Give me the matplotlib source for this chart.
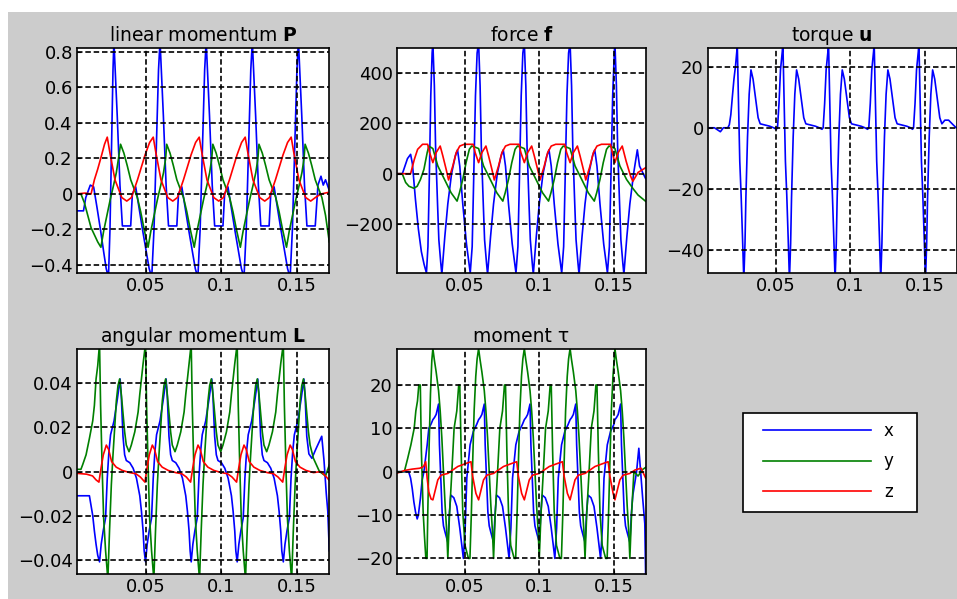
import matplotlib
matplotlib.use("Agg")
import matplotlib.pyplot as plt
from matplotlib.patches import Rectangle
from matplotlib.ticker import FuncFormatter

# ---------------- linear momentum P ----------------
P_x_t = [0.0043, 0.0090, 0.0105, 0.0135, 0.0157, 0.0180, 0.0202, 0.0224, 0.0240, 0.0255, 0.0265, 0.0275, 0.0285,
         0.0291, 0.0313, 0.0331, 0.0347, 0.0402, 0.0413, 0.0435, 0.0480, 0.0524, 0.0541, 0.0556, 0.0571, 0.0586,
         0.0596, 0.0618, 0.0636, 0.0652, 0.0707, 0.0718, 0.0740, 0.0785, 0.0829, 0.0846, 0.0861, 0.0876, 0.0891,
         0.0901, 0.0923, 0.0941, 0.0957, 0.1012, 0.1023, 0.1045, 0.1090, 0.1134, 0.1151, 0.1166, 0.1181, 0.1196,
         0.1206, 0.1228, 0.1246, 0.1262, 0.1317, 0.1328, 0.1350, 0.1395, 0.1439, 0.1456, 0.1471, 0.1486, 0.1501,
         0.1511, 0.1533, 0.1551, 0.1567, 0.1622, 0.1640, 0.1660, 0.1675, 0.1690, 0.1715]
P_x = [-0.095, -0.095, -0.02, 0.05, 0.04, -0.08, -0.20, -0.33, -0.42, -0.47, -0.20, 0.25, 0.70,
       0.86, 0.44, 0.05, -0.18, -0.18, 0.00, 0.04, -0.20, -0.42, -0.47, -0.20, 0.25, 0.70,
       0.86, 0.44, 0.05, -0.18, -0.18, 0.00, 0.04, -0.20, -0.42, -0.47, -0.20, 0.25, 0.70,
       0.86, 0.44, 0.05, -0.18, -0.18, 0.00, 0.04, -0.20, -0.42, -0.47, -0.20, 0.25, 0.70,
       0.86, 0.44, 0.05, -0.18, -0.18, 0.00, 0.04, -0.20, -0.42, -0.47, -0.20, 0.25, 0.70,
       0.86, 0.44, 0.05, -0.18, -0.18, 0.05, 0.10, 0.05, 0.08, 0.02]

P_y_t = [0.0043, 0.0073, 0.0096, 0.0118, 0.0140, 0.0162, 0.0184, 0.0205, 0.0223, 0.0245, 0.0267, 0.0289, 0.0307, 0.0323,
         0.0335, 0.0357, 0.0379, 0.0402, 0.0424, 0.0446, 0.0468, 0.0491, 0.0517, 0.0535, 0.0557, 0.0579, 0.0601, 0.0619, 0.0633,
         0.0640, 0.0662, 0.0684, 0.0707, 0.0729, 0.0751, 0.0773, 0.0796, 0.0822, 0.0840, 0.0862, 0.0884, 0.0906, 0.0924, 0.0938,
         0.0945, 0.0967, 0.0989, 0.1012, 0.1034, 0.1056, 0.1078, 0.1101, 0.1127, 0.1145, 0.1167, 0.1189, 0.1211, 0.1229, 0.1243,
         0.1250, 0.1272, 0.1294, 0.1317, 0.1339, 0.1361, 0.1383, 0.1406, 0.1432, 0.1450, 0.1472, 0.1494, 0.1516, 0.1534, 0.1548,
         0.1555, 0.1577, 0.1599, 0.1622, 0.1644, 0.1666, 0.1690, 0.1715]
P_y = [0.0, 0.0, -0.05, -0.12, -0.19, -0.23, -0.27, -0.30, -0.21, -0.12, -0.03, 0.05, 0.12, 0.21,
       0.28, 0.23, 0.16, 0.08, 0.03, -0.02, -0.10, -0.20, -0.30, -0.21, -0.12, -0.03, 0.05, 0.12, 0.20,
       0.28, 0.23, 0.16, 0.08, 0.03, -0.02, -0.10, -0.20, -0.30, -0.21, -0.12, -0.03, 0.05, 0.12, 0.20,
       0.28, 0.23, 0.16, 0.08, 0.03, -0.02, -0.10, -0.20, -0.30, -0.21, -0.12, -0.03, 0.05, 0.12, 0.20,
       0.28, 0.23, 0.16, 0.08, 0.03, -0.02, -0.10, -0.20, -0.30, -0.21, -0.12, -0.03, 0.05, 0.12, 0.20,
       0.28, 0.23, 0.16, 0.08, 0.03, -0.02, -0.12, -0.27]

P_z_t = [0.0043, 0.0100, 0.0140, 0.0162, 0.0184, 0.0207, 0.0229,
         0.0247, 0.0265, 0.0298, 0.0343, 0.0376, 0.0407, 0.0447, 0.0497, 0.0527,
         0.0551, 0.0569, 0.0602, 0.0647, 0.0680, 0.0711, 0.0751, 0.0801, 0.0831,
         0.0855, 0.0873, 0.0906, 0.0951, 0.0984, 0.1015, 0.1055, 0.1105, 0.1135,
         0.1159, 0.1177, 0.1210, 0.1255, 0.1288, 0.1319, 0.1359, 0.1409, 0.1439,
         0.1463, 0.1481, 0.1514, 0.1559, 0.1592, 0.1623, 0.1660, 0.1715]
P_z = [0.0, 0.005, 0.0, 0.08, 0.14, 0.21, 0.28,
       0.32, 0.23, 0.08, -0.02, -0.04, -0.02, 0.08, 0.22, 0.29,
       0.32, 0.23, 0.08, -0.02, -0.04, -0.02, 0.08, 0.22, 0.29,
       0.32, 0.23, 0.08, -0.02, -0.04, -0.02, 0.08, 0.22, 0.29,
       0.32, 0.23, 0.08, -0.02, -0.04, -0.02, 0.08, 0.22, 0.29,
       0.32, 0.23, 0.08, -0.02, -0.04, -0.02, 0.0, 0.01]

# ---------------- force f ----------------
f_x_t = [0.0050, 0.0083, 0.0100, 0.0117, 0.0138, 0.0150, 0.0170, 0.0190, 0.0210, 0.0228, 0.0244, 0.0254, 0.0263, 0.0273, 0.0282,
         0.0287, 0.0297, 0.0305, 0.0318, 0.0327, 0.0340, 0.0347, 0.0367, 0.0387, 0.0412, 0.0437, 0.0452, 0.0467, 0.0487, 0.0512, 0.0537, 0.0550, 0.0560, 0.0572, 0.0583,
         0.0593, 0.0603, 0.0611, 0.0624, 0.0633, 0.0646, 0.0653, 0.0673, 0.0693, 0.0718, 0.0743, 0.0758, 0.0773, 0.0793, 0.0818, 0.0843, 0.0856, 0.0866, 0.0878, 0.0889,
         0.0899, 0.0909, 0.0917, 0.0930, 0.0939, 0.0952, 0.0959, 0.0979, 0.0999, 0.1024, 0.1049, 0.1064, 0.1079, 0.1099, 0.1124, 0.1149, 0.1162, 0.1172, 0.1184, 0.1195,
         0.1205, 0.1215, 0.1223, 0.1236, 0.1245, 0.1258, 0.1265, 0.1285, 0.1305, 0.1330, 0.1355, 0.1370, 0.1385, 0.1405, 0.1430, 0.1455, 0.1468, 0.1478, 0.1490, 0.1501,
         0.1505, 0.1515, 0.1523, 0.1536, 0.1545, 0.1558, 0.1565, 0.1585, 0.1605, 0.1630, 0.1655, 0.1670, 0.1711]
f_x = [0, 0, 30, 60, 77, 40, -100, -220, -310, -360, -395, -290, -23, 310, 480,
       520, 350, 110, -116, -263, -356, -400, -250, -120, 0, 70, 95, 30, -120, -280, -395, -290, -23, 310, 480,
       520, 350, 110, -116, -263, -356, -400, -250, -120, 0, 70, 95, 30, -120, -280, -395, -290, -23, 310, 480,
       520, 350, 110, -116, -263, -356, -400, -250, -120, 0, 70, 95, 30, -120, -280, -395, -290, -23, 310, 480,
       520, 350, 110, -116, -263, -356, -400, -250, -120, 0, 70, 95, 30, -120, -280, -395, -290, -23, 310, 480,
       520, 350, 110, -116, -263, -356, -400, -250, -120, 0, 95, 30, -20]

f_y_t = [0.0050, 0.0082, 0.0105, 0.0127, 0.0160, 0.0182, 0.0204, 0.0227, 0.0249, 0.0260,
         0.0287, 0.0320, 0.0365, 0.0409, 0.0449, 0.0465, 0.0487, 0.0509, 0.0531, 0.0547, 0.0572,
         0.0593, 0.0626, 0.0671, 0.0715, 0.0755, 0.0771, 0.0793, 0.0815, 0.0837, 0.0853, 0.0878,
         0.0899, 0.0932, 0.0977, 0.1021, 0.1061, 0.1077, 0.1099, 0.1121, 0.1143, 0.1159, 0.1184,
         0.1205, 0.1238, 0.1283, 0.1327, 0.1367, 0.1383, 0.1405, 0.1427, 0.1449, 0.1465, 0.1490,
         0.1505, 0.1538, 0.1583, 0.1627, 0.1660, 0.1711]
f_y = [0, 0, -35, -50, -58, -50, -23, 17, 84, 110,
       100, 31, -23, -76, -109, -76, -23, 44, 97, 110, 105,
       100, 31, -23, -76, -109, -76, -23, 44, 97, 110, 105,
       100, 31, -23, -76, -109, -76, -23, 44, 97, 110, 105,
       100, 31, -23, -76, -109, -76, -23, 44, 97, 110, 105,
       100, 31, -23, -60, -85, -110]

f_z_t = [0.0050, 0.0138, 0.0163, 0.0185, 0.0218, 0.0252, 0.0265,
         0.0287, 0.0309, 0.0336, 0.0354, 0.0376, 0.0392, 0.0420, 0.0443, 0.0467, 0.0497, 0.0557, 0.0570,
         0.0593, 0.0615, 0.0642, 0.0660, 0.0682, 0.0698, 0.0726, 0.0749, 0.0773, 0.0803, 0.0863, 0.0876,
         0.0899, 0.0921, 0.0948, 0.0966, 0.0988, 0.1004, 0.1032, 0.1055, 0.1079, 0.1109, 0.1169, 0.1182,
         0.1205, 0.1227, 0.1254, 0.1272, 0.1294, 0.1310, 0.1338, 0.1361, 0.1385, 0.1415, 0.1475, 0.1488,
         0.1505, 0.1527, 0.1554, 0.1580, 0.1610, 0.1625, 0.1660, 0.1711]
f_z = [0, 0, 57, 97, 117, 117, 84,
       44, 84, 110, 70, 17, -25, 30, 84, 110, 117, 117, 84,
       44, 84, 110, 70, 17, -25, 30, 84, 110, 117, 117, 84,
       44, 84, 110, 70, 17, -25, 30, 84, 110, 117, 117, 84,
       44, 84, 110, 70, 17, -25, 30, 84, 110, 117, 117, 84,
       44, 84, 110, 50, -10, -30, 5, 24]

# ---------------- torque u ----------------
u_x_t = [0.0047, 0.0090, 0.0130, 0.0150, 0.0180, 0.0190, 0.0200, 0.0210, 0.0221, 0.0232, 0.0240, 0.0243,
         0.0249, 0.0260, 0.0269, 0.0279, 0.0287, 0.0295, 0.0301, 0.0312, 0.0323, 0.0335, 0.0349, 0.0365, 0.0383, 0.0397, 0.0462, 0.0487, 0.0505, 0.0513, 0.0523, 0.0533, 0.0545, 0.0549,
         0.0555, 0.0566, 0.0575, 0.0585, 0.0593, 0.0601, 0.0607, 0.0618, 0.0629, 0.0641, 0.0655, 0.0671, 0.0689, 0.0703, 0.0768, 0.0793, 0.0811, 0.0819, 0.0829, 0.0839, 0.0851, 0.0855,
         0.0861, 0.0872, 0.0881, 0.0891, 0.0899, 0.0907, 0.0913, 0.0924, 0.0935, 0.0947, 0.0961, 0.0977, 0.0995, 0.1009, 0.1074, 0.1099, 0.1117, 0.1125, 0.1135, 0.1145, 0.1157, 0.1161,
         0.1167, 0.1178, 0.1187, 0.1197, 0.1205, 0.1213, 0.1219, 0.1230, 0.1241, 0.1253, 0.1267, 0.1283, 0.1301, 0.1315, 0.1380, 0.1405, 0.1418, 0.1425, 0.1435, 0.1445, 0.1457, 0.1461,
         0.1467, 0.1478, 0.1487, 0.1497, 0.1505, 0.1513, 0.1519, 0.1530, 0.1541, 0.1553, 0.1567, 0.1583, 0.1601, 0.1615, 0.1635, 0.1660, 0.1690, 0.1711]
u_x = [0, 0, -1.3, 0, 0, 1, 4.3, 10, 16, 20.6, 25, 28,
       14, -11, -22, -37, -50, -38, -23, -3, 11, 19, 16, 10, 3.3, 1.3, 0.5, 0, -0.5, 0, 8, 19, 25, 28,
       14, -11, -22, -37, -50, -38, -23, -3, 11, 19, 16, 10, 3.3, 1.3, 0.5, 0, -0.5, 0, 8, 19, 25, 28,
       14, -11, -22, -37, -50, -38, -23, -3, 11, 19, 16, 10, 3.3, 1.3, 0.5, 0, -0.5, 0, 8, 19, 25, 28,
       14, -11, -22, -37, -50, -38, -23, -3, 11, 19, 16, 10, 3.3, 1.3, 0.5, 0, -0.5, 0, 8, 19, 25, 28,
       14, -11, -22, -37, -50, -38, -23, -3, 11, 19, 16, 10, 3.3, 1.3, 2.5, 2.5, 1.0, 0]

# ---------------- angular momentum L ----------------
L_x_t = [0.0043, 0.0129, 0.0151, 0.0162, 0.0173, 0.0184,
         0.0196, 0.0207, 0.0220, 0.0236, 0.0247, 0.0258, 0.0269, 0.0292, 0.0314, 0.0332, 0.0340, 0.0351, 0.0362, 0.0373, 0.0396, 0.0418, 0.0440, 0.0462, 0.0473, 0.0484, 0.0491,
         0.0500, 0.0511, 0.0524, 0.0540, 0.0551, 0.0562, 0.0573, 0.0596, 0.0618, 0.0636, 0.0644, 0.0655, 0.0666, 0.0677, 0.0700, 0.0722, 0.0744, 0.0766, 0.0777, 0.0788, 0.0795,
         0.0802, 0.0813, 0.0826, 0.0842, 0.0853, 0.0864, 0.0875, 0.0898, 0.0920, 0.0938, 0.0946, 0.0957, 0.0968, 0.0979, 0.1002, 0.1024, 0.1046, 0.1068, 0.1079, 0.1090, 0.1097,
         0.1106, 0.1117, 0.1130, 0.1146, 0.1157, 0.1168, 0.1179, 0.1202, 0.1224, 0.1242, 0.1250, 0.1261, 0.1272, 0.1283, 0.1306, 0.1328, 0.1350, 0.1372, 0.1383, 0.1394, 0.1401,
         0.1411, 0.1422, 0.1435, 0.1451, 0.1462, 0.1473, 0.1484, 0.1507, 0.1529, 0.1547, 0.1555, 0.1566, 0.1580, 0.1600, 0.1625, 0.1665, 0.1680, 0.1695, 0.1705, 0.1715]
L_x = [-0.011, -0.011, -0.020, -0.027, -0.033, -0.038,
       -0.041, -0.033, -0.027, -0.021, -0.003, 0.009, 0.0167, 0.023, 0.033, 0.042, 0.034, 0.016, 0.0076, 0.005, 0.004, 0.0015, -0.003, -0.011, -0.018, -0.027, -0.036,
       -0.041, -0.033, -0.027, -0.021, -0.003, 0.009, 0.0167, 0.023, 0.033, 0.042, 0.034, 0.016, 0.0076, 0.005, 0.004, 0.0015, -0.003, -0.011, -0.018, -0.027, -0.036,
       -0.041, -0.033, -0.027, -0.021, -0.003, 0.009, 0.0167, 0.023, 0.033, 0.042, 0.034, 0.016, 0.0076, 0.005, 0.004, 0.0015, -0.003, -0.011, -0.018, -0.027, -0.036,
       -0.041, -0.033, -0.027, -0.021, -0.003, 0.009, 0.0167, 0.023, 0.033, 0.042, 0.034, 0.016, 0.0076, 0.005, 0.004, 0.0015, -0.003, -0.011, -0.018, -0.027, -0.036,
       -0.041, -0.033, -0.027, -0.021, -0.003, 0.009, 0.0167, 0.023, 0.033, 0.042, 0.034, 0.016, 0.008, 0.006, 0.010, 0.016, 0.005, -0.010, -0.018, -0.036]

L_y_t = [0.0043, 0.0073, 0.0084, 0.0107, 0.0129, 0.0151, 0.0162, 0.0173, 0.0184,
         0.0196, 0.0203, 0.0214, 0.0223, 0.0236, 0.0251, 0.0262, 0.0274, 0.0285, 0.0296, 0.0307, 0.0318, 0.0329, 0.0340, 0.0362, 0.0373, 0.0391, 0.0406, 0.0429, 0.0451, 0.0462, 0.0473, 0.0484,
         0.0500, 0.0507, 0.0518, 0.0527, 0.0540, 0.0555, 0.0566, 0.0578, 0.0589, 0.0600, 0.0611, 0.0622, 0.0633, 0.0644, 0.0666, 0.0677, 0.0695, 0.0710, 0.0733, 0.0755, 0.0766, 0.0777, 0.0788,
         0.0802, 0.0809, 0.0820, 0.0829, 0.0842, 0.0857, 0.0868, 0.0880, 0.0891, 0.0902, 0.0913, 0.0924, 0.0935, 0.0946, 0.0968, 0.0979, 0.0997, 0.1012, 0.1035, 0.1057, 0.1068, 0.1079, 0.1090,
         0.1106, 0.1113, 0.1124, 0.1133, 0.1146, 0.1161, 0.1172, 0.1184, 0.1195, 0.1206, 0.1217, 0.1228, 0.1239, 0.1250, 0.1272, 0.1283, 0.1301, 0.1316, 0.1339, 0.1361, 0.1372, 0.1383, 0.1394,
         0.1411, 0.1418, 0.1429, 0.1438, 0.1451, 0.1466, 0.1477, 0.1489, 0.1500, 0.1511, 0.1522, 0.1533, 0.1544, 0.1555, 0.1577, 0.1588, 0.1610, 0.1650, 0.1690, 0.1715]
L_y = [0.001, 0.001, 0.003, 0.0076, 0.015, 0.023, 0.030, 0.042, 0.048,
       0.058, 0.030, 0.0, -0.021, -0.036, -0.049, -0.027, -0.006, 0.0076, 0.0197, 0.032, 0.039, 0.042, 0.035, 0.018, 0.012, 0.009, 0.012, 0.018, 0.027, 0.035, 0.042, 0.049,
       0.058, 0.030, 0.0, -0.021, -0.036, -0.049, -0.027, -0.006, 0.0076, 0.0197, 0.032, 0.039, 0.042, 0.035, 0.018, 0.012, 0.009, 0.012, 0.018, 0.027, 0.035, 0.042, 0.049,
       0.058, 0.030, 0.0, -0.021, -0.036, -0.049, -0.027, -0.006, 0.0076, 0.0197, 0.032, 0.039, 0.042, 0.035, 0.018, 0.012, 0.009, 0.012, 0.018, 0.027, 0.035, 0.042, 0.049,
       0.058, 0.030, 0.0, -0.021, -0.036, -0.049, -0.027, -0.006, 0.0076, 0.0197, 0.032, 0.039, 0.042, 0.035, 0.018, 0.012, 0.009, 0.012, 0.018, 0.027, 0.035, 0.042, 0.049,
       0.058, 0.030, 0.0, -0.021, -0.036, -0.049, -0.027, -0.006, 0.0076, 0.0197, 0.032, 0.039, 0.042, 0.035, 0.018, 0.012, 0.006, 0.0, -0.002, 0.003]

L_z_t = [0.0043, 0.0110, 0.0150, 0.0173,
         0.0192, 0.0207, 0.0221, 0.0241, 0.0256, 0.0276, 0.0306, 0.0346, 0.0396, 0.0436, 0.0466,
         0.0496, 0.0511, 0.0525, 0.0545, 0.0560, 0.0580, 0.0610, 0.0650, 0.0700, 0.0740, 0.0770,
         0.0798, 0.0813, 0.0827, 0.0847, 0.0862, 0.0882, 0.0912, 0.0952, 0.1002, 0.1042, 0.1072,
         0.1102, 0.1117, 0.1131, 0.1151, 0.1166, 0.1186, 0.1216, 0.1256, 0.1306, 0.1346, 0.1376,
         0.1407, 0.1422, 0.1436, 0.1456, 0.1471, 0.1491, 0.1521, 0.1561, 0.1611, 0.1660, 0.1690, 0.1715]
L_z = [-0.0008, -0.0012, -0.002, -0.0038,
       -0.0048, 0.002, 0.0076, 0.012, 0.010, 0.0045, 0.002, 0.0005, -0.0005, -0.001, -0.0025,
       -0.0048, 0.002, 0.0076, 0.012, 0.010, 0.0045, 0.002, 0.0005, -0.0005, -0.001, -0.0025,
       -0.0048, 0.002, 0.0076, 0.012, 0.010, 0.0045, 0.002, 0.0005, -0.0005, -0.001, -0.0025,
       -0.0048, 0.002, 0.0076, 0.012, 0.010, 0.0045, 0.002, 0.0005, -0.0005, -0.001, -0.0025,
       -0.0048, 0.002, 0.0076, 0.012, 0.010, 0.0045, 0.002, 0.0005, -0.0005, 0.0, -0.002, -0.004]

# ---------------- moment tau ----------------
m_x_t = [0.0050, 0.0125, 0.0138, 0.0149, 0.0160, 0.0171, 0.0182, 0.0190, 0.0204, 0.0215, 0.0227, 0.0249, 0.0260, 0.0275,
         0.0287, 0.0298, 0.0309, 0.0325, 0.0331, 0.0340, 0.0349, 0.0358, 0.0369, 0.0387, 0.0398, 0.0407, 0.0427, 0.0447, 0.0467, 0.0491, 0.0503, 0.0514, 0.0536, 0.0558, 0.0580,
         0.0593, 0.0604, 0.0615, 0.0631, 0.0637, 0.0646, 0.0655, 0.0664, 0.0675, 0.0693, 0.0704, 0.0713, 0.0733, 0.0753, 0.0773, 0.0797, 0.0809, 0.0820, 0.0842, 0.0864, 0.0886,
         0.0899, 0.0910, 0.0921, 0.0937, 0.0943, 0.0952, 0.0961, 0.0970, 0.0981, 0.0999, 0.1010, 0.1019, 0.1039, 0.1059, 0.1079, 0.1103, 0.1115, 0.1126, 0.1148, 0.1170, 0.1192,
         0.1205, 0.1216, 0.1227, 0.1243, 0.1249, 0.1258, 0.1267, 0.1276, 0.1287, 0.1305, 0.1316, 0.1325, 0.1345, 0.1365, 0.1385, 0.1409, 0.1421, 0.1432, 0.1454, 0.1476, 0.1498,
         0.1505, 0.1516, 0.1527, 0.1543, 0.1549, 0.1558, 0.1567, 0.1576, 0.1587, 0.1605, 0.1616, 0.1625, 0.1650, 0.1665, 0.1690, 0.1705, 0.1711]
m_x = [0, 0, -1.5, -3.9, -7, -9.3, -10.9, -10, -6, -2, 0, 6.2, 10, 11,
       12, 12.5, 13.2, 15.6, 6.2, -1.5, -9.3, -12.5, -14, -16.3, -9.3, -5.4, -6, -8, -13, -20, -13, -1.5, 6.2, 9.3, 10.9,
       12, 12.5, 13.2, 15.6, 6.2, -1.5, -9.3, -12.5, -14, -16.3, -9.3, -5.4, -6, -8, -13, -20, -13, -1.5, 6.2, 9.3, 10.9,
       12, 12.5, 13.2, 15.6, 6.2, -1.5, -9.3, -12.5, -14, -16.3, -9.3, -5.4, -6, -8, -13, -20, -13, -1.5, 6.2, 9.3, 10.9,
       12, 12.5, 13.2, 15.6, 6.2, -1.5, -9.3, -12.5, -14, -16.3, -9.3, -5.4, -6, -8, -13, -20, -13, -1.5, 6.2, 9.3, 10.9,
       12, 12.5, 13.2, 15.6, 6.2, -1.5, -9.3, -12.5, -14, -16.3, -9.3, -5.4, 0, 5.4, -5.8, -12, -25]

m_y_t = [0.0050, 0.0096, 0.0118, 0.0140, 0.0162, 0.0173, 0.0184, 0.0193, 0.0203, 0.0210, 0.0222, 0.0231, 0.0240, 0.0248, 0.0253, 0.0262, 0.0271, 0.0280,
         0.0287, 0.0296, 0.0309, 0.0325, 0.0336, 0.0347, 0.0358, 0.0369, 0.0380, 0.0387, 0.0398, 0.0414, 0.0429, 0.0447, 0.0460, 0.0467, 0.0476, 0.0487, 0.0502, 0.0525, 0.0535, 0.0545, 0.0554, 0.0563, 0.0574, 0.0583,
         0.0593, 0.0602, 0.0615, 0.0631, 0.0642, 0.0653, 0.0664, 0.0675, 0.0686, 0.0693, 0.0704, 0.0720, 0.0735, 0.0753, 0.0766, 0.0773, 0.0782, 0.0793, 0.0808, 0.0831, 0.0841, 0.0851, 0.0860, 0.0869, 0.0880, 0.0889,
         0.0899, 0.0908, 0.0921, 0.0937, 0.0948, 0.0959, 0.0970, 0.0981, 0.0992, 0.0999, 0.1010, 0.1026, 0.1041, 0.1059, 0.1072, 0.1079, 0.1088, 0.1099, 0.1114, 0.1137, 0.1147, 0.1157, 0.1166, 0.1175, 0.1186, 0.1195,
         0.1205, 0.1214, 0.1227, 0.1243, 0.1254, 0.1265, 0.1276, 0.1287, 0.1298, 0.1305, 0.1316, 0.1332, 0.1347, 0.1365, 0.1378, 0.1385, 0.1394, 0.1405, 0.1420, 0.1443, 0.1453, 0.1463, 0.1472, 0.1481, 0.1492, 0.1501,
         0.1505, 0.1514, 0.1527, 0.1543, 0.1554, 0.1565, 0.1576, 0.1587, 0.1598, 0.1605, 0.1616, 0.1632, 0.1660, 0.1690, 0.1711]
m_y = [0, 0, 3, 6.2, 10, 14, 16.3, 20, 20, 5, -9.3, -15, -20, -20, -9.3, 6, 18, 25.7,
       28.4, 26, 23, 18.7, 14, 7.8, 0, -7.8, -14, -20, -10, 0, 10, 14, 20, 20, 5, -9.3, -17, -20, -20, -9, 3, 14, 22, 26,
       28.4, 26, 23, 18.7, 14, 7.8, 0, -7.8, -14, -20, -10, 0, 10, 14, 20, 20, 5, -9.3, -17, -20, -20, -9, 3, 14, 22, 26,
       28.4, 26, 23, 18.7, 14, 7.8, 0, -7.8, -14, -20, -10, 0, 10, 14, 20, 20, 5, -9.3, -17, -20, -20, -9, 3, 14, 22, 26,
       28.4, 26, 23, 18.7, 14, 7.8, 0, -7.8, -14, -20, -10, 0, 10, 14, 20, 20, 5, -9.3, -17, -20, -20, -9, 3, 14, 22, 26,
       28.4, 26, 23, 18.7, 14, 7.8, 0, -7.8, -14, -20, -10, 0, -1, 0.5, 1]

m_z_t = [0.0050, 0.0100, 0.0150, 0.0200, 0.0225, 0.0239, 0.0249, 0.0260, 0.0275,
         0.0287, 0.0320, 0.0342, 0.0387, 0.0454, 0.0509, 0.0542, 0.0553, 0.0575,
         0.0593, 0.0626, 0.0648, 0.0693, 0.0760, 0.0815, 0.0848, 0.0859, 0.0881,
         0.0899, 0.0932, 0.0954, 0.0999, 0.1066, 0.1121, 0.1154, 0.1165, 0.1187,
         0.1205, 0.1238, 0.1260, 0.1305, 0.1372, 0.1427, 0.1460, 0.1471, 0.1493,
         0.1505, 0.1538, 0.1560, 0.1605, 0.1640, 0.1680, 0.1711]
m_z = [-0.3, 0.3, 0.6, 0.8, 1.2, 2.3, -1.6, -4.7, -6.3,
       -6.5, -1.9, -0.8, -0.4, 1.2, 1.9, 2.3, -1.0, -5.0,
       -6.5, -1.9, -0.8, -0.4, 1.2, 1.9, 2.3, -1.0, -5.0,
       -6.5, -1.9, -0.8, -0.4, 1.2, 1.9, 2.3, -1.0, -5.0,
       -6.5, -1.9, -0.8, -0.4, 1.2, 1.9, 2.3, -1.0, -5.0,
       -6.5, -1.9, -0.8, -0.4, 0.4, 0.8, -1.5]

# axis settings
x_lim = (0.0047, 0.1713)
x_ticks = [0.05, 0.1, 0.15]
legend_labels = ['x', 'y', 'z']

BLUE, GREEN, RED = '#0000ff', '#008000', '#ff0000'
W, H = 957, 599


def fmt(v, pos):
    return ('%g' % v).replace('-', '\u2212')


def box(x0, y0, x1, y1):
    # pixel box -> figure fraction
    return [x0 / W, 1 - y1 / H, (x1 - x0) / W, (y1 - y0) / H]


def panel(rect, title, series, ylim, yticks):
    ax = fig.add_axes(box(*rect))
    lines = []
    for t, v, c in series:
        ln, = ax.plot(t, v, color=c, lw=1.2)
        lines.append(ln)
    ax.set_xlim(*x_lim)
    ax.set_ylim(*ylim)
    ax.set_xticks(x_ticks)
    ax.set_yticks(yticks)
    ax.xaxis.set_major_formatter(FuncFormatter(fmt))
    ax.yaxis.set_major_formatter(FuncFormatter(fmt))
    ax.grid(True, color='black', linestyle=(0, (3.3, 1.7)), linewidth=1.2)
    ax.set_axisbelow(False)
    ax.tick_params(direction='in', length=3, width=0.8, labelsize=13, pad=3, colors='black')
    for s in ax.spines.values():
        s.set_linewidth(1.2)
        s.set_color('black')
    ax.set_title(title, fontsize=13.5, pad=5)
    return lines


fig = plt.figure(figsize=(W / 100, H / 100), dpi=100, facecolor='white')
fig.add_artist(Rectangle((8 / W, 0), 1, 1 - 12 / H, transform=fig.transFigure,
                         facecolor='#cccccc', edgecolor='none', zorder=-10))

hP = panel((77, 48, 329, 273), 'linear momentum $\\mathbf{P}$',
           [(P_x_t, P_x, BLUE), (P_y_t, P_y, GREEN), (P_z_t, P_z, RED)],
           (-0.445, 0.822), [-0.4, -0.2, 0, 0.2, 0.4, 0.6, 0.8])
panel((397, 48, 646, 273), 'force $\\mathbf{f}$',
      [(f_x_t, f_x, BLUE), (f_y_t, f_y, GREEN), (f_z_t, f_z, RED)],
      (-395, 500), [-200, 0, 200, 400])
panel((708, 48, 956.5, 273), 'torque $\\mathbf{u}$',
      [(u_x_t, u_x, BLUE)],
      (-47.7, 26.2), [-40, -20, 0, 20])
panel((77, 349, 329, 574), 'angular momentum $\\mathbf{L}$',
      [(L_x_t, L_x, BLUE), (L_y_t, L_y, GREEN), (L_z_t, L_z, RED)],
      (-0.0465, 0.0556), [-0.04, -0.02, 0, 0.02, 0.04])
panel((397, 349, 646, 574), 'moment \u03c4',
      [(m_x_t, m_x, BLUE), (m_y_t, m_y, GREEN), (m_z_t, m_z, RED)],
      (-23.6, 28.3), [-20, -10, 0, 10, 20])

# legend box (drawn as in the figure's empty sixth slot)
fig.add_artist(Rectangle((743 / W, 1 - 512 / H), 174 / W, 99 / H, transform=fig.transFigure,
                         facecolor='white', edgecolor='black', lw=1.2, zorder=1))
fig.legend(hP, legend_labels, loc='upper left', bbox_to_anchor=(763 / W, 1 - 422 / H),
           frameon=False, borderpad=0, borderaxespad=0, handlelength=6.5,
           handletextpad=0.75, labelspacing=0.75, fontsize=12)

fig.savefig('out.png', dpi=100, facecolor=fig.get_facecolor())
